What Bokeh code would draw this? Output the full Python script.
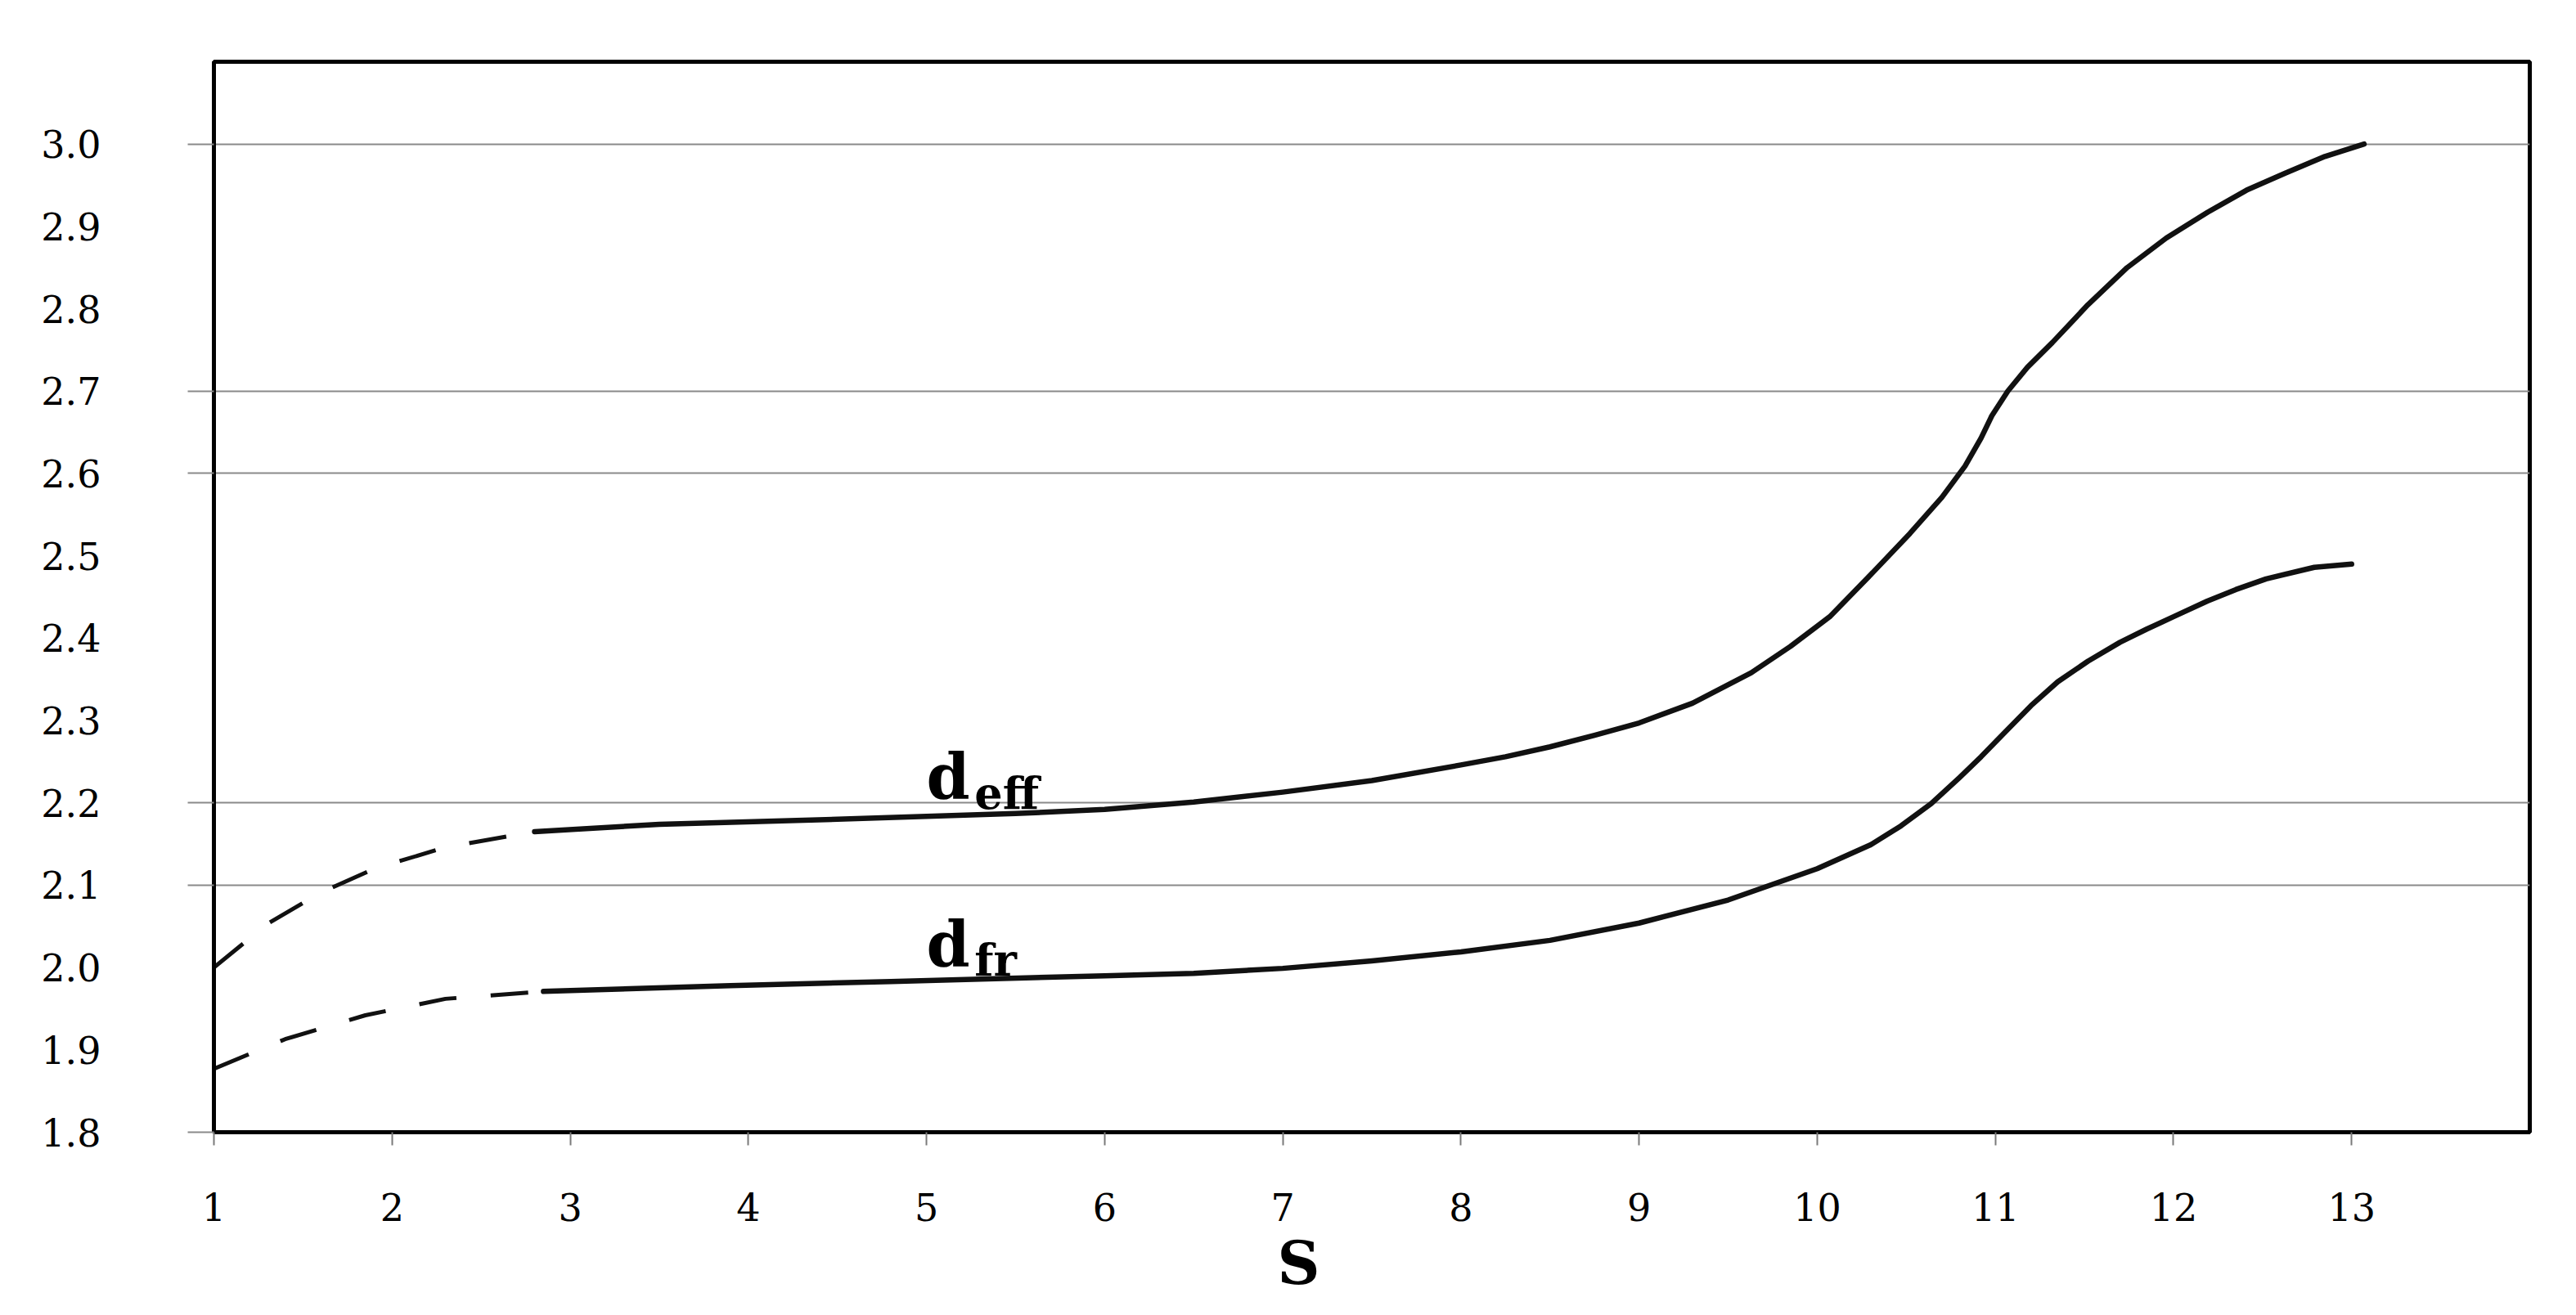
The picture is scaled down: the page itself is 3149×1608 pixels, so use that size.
from bokeh.plotting import figure
from bokeh.models import (LinearAxis, FixedTicker, Range1d, Grid, PrintfTickFormatter,
                          CustomJSTickFormatter, Title)
from bokeh.core.properties import value
from bokeh.embed import file_html
from bokeh.resources import INLINE

# ---- data ----
x_ticks = [1, 2, 3, 4, 5, 6, 7, 8, 9, 10, 11, 12, 13]
y_ticks = [1.8, 1.9, 2.0, 2.1, 2.2, 2.3, 2.4, 2.5, 2.6, 2.7, 2.8, 2.9, 3.0]
grid_vals = [2.1, 2.2, 2.6, 2.7, 3.0]
tick_mark_vals = [1.8, 2.1, 2.2, 2.6, 2.7, 3.0]

deff_dash_x = [1.0, 1.3, 1.6, 1.9, 2.3, 2.8]
deff_dash_y = [2.000, 2.053, 2.091, 2.120, 2.146, 2.165]
deff_x = [2.8, 3.5, 4.5, 5.5, 6.0, 6.5, 7.0, 7.5, 8.0, 8.25, 8.5, 8.75, 9.0, 9.3, 9.63,
          9.85, 10.07, 10.3, 10.52, 10.7, 10.83, 10.92, 10.98, 11.07, 11.18, 11.32,
          11.52, 11.74, 11.96, 12.19, 12.41, 12.63, 12.85, 13.07]
deff_y = [2.165, 2.174, 2.180, 2.187, 2.192, 2.201, 2.213, 2.227, 2.246, 2.256, 2.268, 2.282, 2.297, 2.321, 2.358,
          2.390, 2.426, 2.477, 2.527, 2.571, 2.609, 2.643, 2.670, 2.700, 2.729, 2.759,
          2.805, 2.850, 2.886, 2.917, 2.944, 2.965, 2.985, 3.000]

dfr_dash_x = [1.0, 1.4, 1.85, 2.3, 2.85]
dfr_dash_y = [1.877, 1.913, 1.942, 1.962, 1.971]
dfr_x = [2.85, 3.9, 4.8, 6.0, 6.5, 7.0, 7.5, 8.0, 8.5, 9.0, 9.5, 10.0, 10.3, 10.47,
         10.64, 10.8, 10.92, 11.05, 11.2, 11.35, 11.52, 11.7, 11.85, 12.0, 12.19,
         12.35, 12.52, 12.79, 13.0]
dfr_y = [1.971, 1.978, 1.983, 1.990, 1.993, 1.999, 2.008, 2.019, 2.033, 2.054, 2.082, 2.120, 2.149, 2.172,
         2.199, 2.231, 2.256, 2.285, 2.318, 2.347, 2.372, 2.395, 2.411, 2.426, 2.445,
         2.459, 2.472, 2.486, 2.490]

# curve labels: main letter and subscript
lab_main = ["d", "d"]
lab_main_x = [5.0, 5.0]
lab_main_y = [2.232, 2.028]
lab_sub = ["eff", "fr"]
lab_sub_x = [5.27, 5.27]
lab_sub_y = [2.212, 2.009]
x_title = "S"

SERIF = "DejaVu Serif"

p = figure(frame_width=2831, frame_height=1309,
           x_range=Range1d(1, 14), y_range=Range1d(1.8, 3.1),
           output_backend="svg", toolbar_location=None,
           y_axis_location=None,
           min_border_left=261, min_border_top=75, min_border_right=41, min_border_bottom=30,
           background_fill_color="white", border_fill_color="white")

p.outline_line_color = "black"
p.outline_line_width = 5
p.outline_line_alpha = 1.0

for g in p.grid:
    g.visible = False

p.add_layout(Grid(dimension=1, ticker=FixedTicker(ticks=grid_vals),
                  grid_line_color="#8a8a8a", grid_line_width=2))

# bottom axis
xa = p.xaxis[0]
xa.ticker = FixedTicker(ticks=x_ticks)
xa.axis_line_color = "black"
xa.axis_line_width = 5
xa.major_tick_out = 16
xa.major_tick_in = 0
xa.major_tick_line_color = "#7a7a7a"
xa.major_tick_line_width = 2
xa.minor_tick_line_color = None
xa.major_label_text_font = SERIF
xa.major_label_text_font_size = "46px"
xa.major_label_text_color = "black"
xa.major_label_standoff = 58

# x title, centred under the 1..13 span
p.add_layout(Title(text=x_title, align="left", offset=1300, standoff=8,
                   text_font=SERIF, text_font_style="bold", text_font_size="72px",
                   text_color="black"), "below")

# left axis with tick marks only at gridlines
ya_ticks = LinearAxis(ticker=FixedTicker(ticks=tick_mark_vals),
                      formatter=CustomJSTickFormatter(code="return ''"),
                      axis_line_color="black", axis_line_width=5,
                      major_tick_out=32, major_tick_in=0,
                      major_tick_line_color="#8a8a8a", major_tick_line_width=2,
                      minor_tick_line_color=None, major_label_standoff=0)
p.add_layout(ya_ticks, "left")

# left axis carrying the labels
ya_labels = LinearAxis(ticker=FixedTicker(ticks=y_ticks),
                       formatter=PrintfTickFormatter(format="%.1f"),
                       axis_line_color=None, major_tick_line_color=None,
                       minor_tick_line_color=None, major_tick_out=0, major_tick_in=0,
                       major_label_text_font=SERIF, major_label_text_font_size="46px",
                       major_label_text_color="black", major_label_standoff=106)
p.add_layout(ya_labels, "left")

# curves
ink = "#111111"
p.line(deff_dash_x, deff_dash_y, line_color=ink, line_width=5, line_dash="46 42")
p.line(deff_x, deff_y, line_color=ink, line_width=6.5, line_join="round", line_cap="round")
p.line(dfr_dash_x, dfr_dash_y, line_color=ink, line_width=5, line_dash="46 42")
p.line(dfr_x, dfr_y, line_color=ink, line_width=6.5, line_join="round", line_cap="round")

# curve labels
p.text(x=lab_main_x, y=lab_main_y, text=lab_main, text_font=value(SERIF),
       text_font_style="bold", text_font_size="76px", text_color="black",
       text_align="left", text_baseline="alphabetic")
p.text(x=lab_sub_x, y=lab_sub_y, text=lab_sub, text_font=value(SERIF),
       text_font_style="bold", text_font_size="54px", text_color="black",
       text_align="left", text_baseline="alphabetic")

open("out.html", "w").write(file_html(p, INLINE))
